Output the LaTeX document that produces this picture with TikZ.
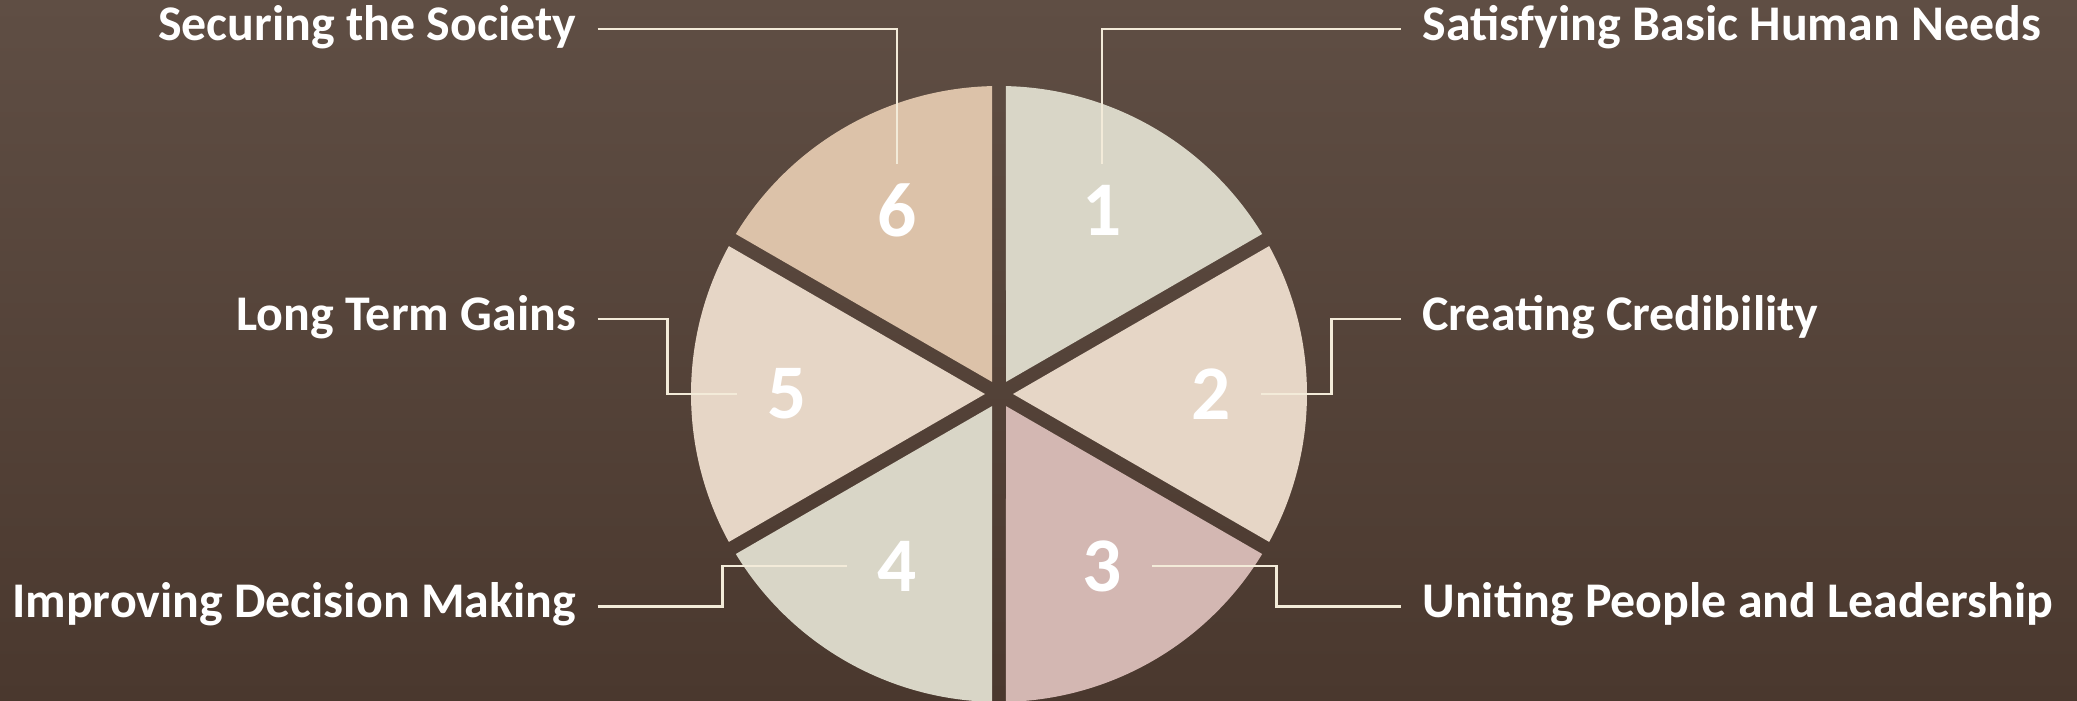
\documentclass[tikz,border=0pt]{standalone}
\usepackage{fontspec}
\setmainfont{Carlito}
\usetikzlibrary{positioning,calc}
\definecolor{bgtop}{HTML}{5F4E44}
\definecolor{bgbot}{HTML}{4A382E}
\definecolor{sliceA}{HTML}{D9D6C7}
\definecolor{sliceB}{HTML}{E6D6C6}
\definecolor{sliceC}{HTML}{D3B7B2}
\definecolor{sliceD}{HTML}{DCC2A9}
\definecolor{leader}{HTML}{F3EBD9}
\begin{document}
\begin{tikzpicture}[every node/.style={text=white},
  lbl/.style={font=\fontsize{14.2}{16}\selectfont\bfseries,inner xsep=2.1mm,inner ysep=0pt,text height=0.644em,text depth=0pt},
  num/.style={font=\fontsize{22}{26}\selectfont\bfseries,inner sep=0pt},
  conn/.style={leader,line width=0.8pt}]
\useasboundingbox (0,0) rectangle (20.77,7.01);
\shade[top color=bgtop,bottom color=bgbot] (0,0) rectangle (20.77,7.01);
% six slices, gaps left open
\begin{scope}[shift={(9.99,3.07)}]
\foreach \a/\col in {90/sliceA,30/sliceB,-30/sliceC,-90/sliceA,-150/sliceB,150/sliceD}
  \fill[\col] (\a-30:0.14) -- (\a-1.3:3.08) arc[start angle=\a-1.3,end angle=\a-58.7,radius=3.08cm] -- cycle;
\end{scope}
% numbers
\node[num] (n1) at (11.02,4.91) {1};
\node[num] (n2) at (12.11,3.07) {2};
\node[num] (n3) at (11.02,1.35) {3};
\node[num] (n4) at (8.97,1.35) {4};
\node[num] (n5) at (7.87,3.07) {5};
\node[num] (n6) at (8.97,4.91) {6};
% labels
\node[lbl,anchor=west] (l1) at (14.007,6.72) {Satisfying Basic Human Needs};
\node[lbl,anchor=west] (l2) at (14.007,3.82) {Creating Credibility};
\node[lbl,anchor=west] (l3) at (14.007,0.945) {Uniting People and Leadership};
\node[lbl,anchor=east] (l4) at (5.977,0.945) {Improving Decision Making};
\node[lbl,anchor=east] (l5) at (5.977,3.82) {Long Term Gains};
\node[lbl,anchor=east] (l6) at (5.977,6.72) {Securing the Society};
% leaders
\draw[conn] (l1.west) -| ([yshift=4.6mm]n1.center);
\draw[conn] (l6.east) -| ([yshift=4.6mm]n6.center);
\draw[conn] (l2.west) -- ++(-0.69,0) |- ([xshift=5mm]n2.center);
\draw[conn] (l5.east) -- ++(0.696,0) |- ([xshift=-5mm]n5.center);
\draw[conn] (l3.west) -- ++(-1.243,0) |- ([xshift=5mm]n3.center);
\draw[conn] (l4.east) -- ++(1.246,0) |- ([xshift=-5mm]n4.center);
\end{tikzpicture}
\end{document}
